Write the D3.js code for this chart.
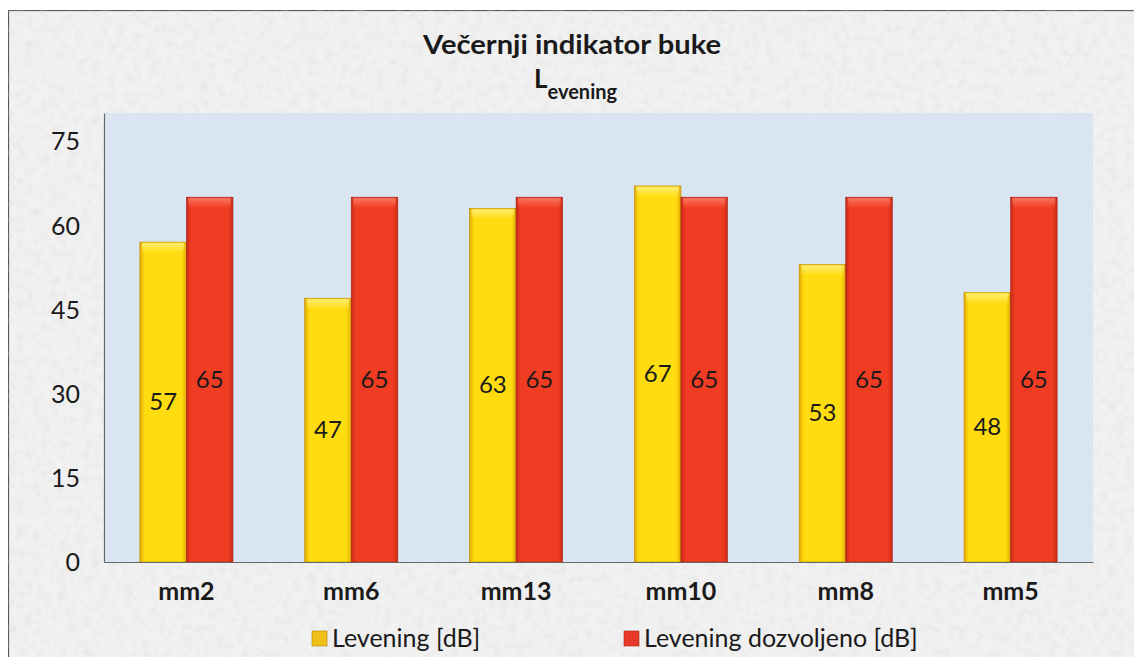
<!DOCTYPE html>
<html><head><meta charset="utf-8">
<script src="https://cdn.jsdelivr.net/npm/d3@7"></script>
<style>
html,body{margin:0;padding:0;background:#fff;}
svg{display:block;}
text{font-family:"Lato","Open Sans",sans-serif;fill:#1a1a1a;}
</style></head>
<body>
<script>
const categories = ["mm2","mm6","mm13","mm10","mm8","mm5"];
const levening = [57,47,63,67,53,48];
const dozvoljeno = [65,65,65,65,65,65];
const seriesNames = ["Levening [dB]","Levening dozvoljeno [dB]"];
const yTicks = [0,15,30,45,60,75];
const yMax = 80;

const W = 1134, H = 657;
const svg = d3.select("body").append("svg").attr("width",W).attr("height",H);
const defs = svg.append("defs");

// paper texture
const f = defs.append("filter").attr("id","paper").attr("x",0).attr("y",0).attr("width","100%").attr("height","100%");
f.append("feTurbulence").attr("type","fractalNoise").attr("baseFrequency",0.12).attr("numOctaves",3).attr("seed",3).attr("result","n");
f.append("feColorMatrix").attr("in","n").attr("type","matrix")
 .attr("values","0 0 0 0 0.6  0 0 0 0 0.6  0 0 0 0 0.6  0 0 0 -0.6 0.33").attr("result","c");
f.append("feComposite").attr("in","c").attr("in2","SourceGraphic").attr("operator","in").attr("result","t");
f.append("feMerge").selectAll("feMergeNode").data(["SourceGraphic","t"]).join("feMergeNode").attr("in",d=>d);

function hGrad(id, edge, mid){
  const g = defs.append("linearGradient").attr("id",id).attr("x1",0).attr("x2",1).attr("y1",0).attr("y2",0);
  [[0,edge],[0.1,mid],[0.9,mid],[1,edge]].forEach(s=>g.append("stop").attr("offset",s[0]).attr("stop-color",s[1]));
}
hGrad("gY","#e0a800","#ffdc10");
hGrad("gR","#c82a18","#f03c22");
function vGrad(id, c1){
  const g = defs.append("linearGradient").attr("id",id).attr("x1",0).attr("x2",0).attr("y1",0).attr("y2",1);
  g.append("stop").attr("offset",0).attr("stop-color",c1).attr("stop-opacity",0.9);
  g.append("stop").attr("offset",1).attr("stop-color",c1).attr("stop-opacity",0);
}
vGrad("hY","#fff07a");
vGrad("hR","#ff7a66");

// outer chart area
svg.append("rect").attr("x",8.5).attr("y",10.5).attr("width",W).attr("height",H)
  .attr("fill","#f1f1f1").attr("stroke","#555").attr("stroke-width",1.2).attr("filter","url(#paper)");

const m = {left:104, right:1093, top:113, bottom:562};
const x0 = d3.scaleBand().domain(categories).range([m.left,m.right]).paddingInner(0.435).paddingOuter(0.2175);
const x1 = d3.scaleBand().domain([0,1]).range([0,x0.bandwidth()]).padding(0);
const y = d3.scaleLinear().domain([0,yMax]).range([m.bottom,m.top]);

svg.append("rect").attr("x",m.left).attr("y",m.top).attr("width",m.right-m.left).attr("height",m.bottom-m.top)
  .attr("fill","#d9e6f1");

// title
svg.append("text").attr("x",572).attr("y",54).attr("text-anchor","middle")
  .attr("font-size",26).attr("font-weight","bold").attr("textLength",298).attr("lengthAdjust","spacingAndGlyphs")
  .text("Večernji indikator buke");
const sub = svg.append("text").attr("x",534).attr("y",88).attr("font-weight","bold");
sub.append("tspan").attr("font-size",26).text("L");
sub.append("tspan").attr("font-size",20).attr("dy",11).text("evening");

const fills = ["url(#gY)","url(#gR)"];
const hl = ["url(#hY)","url(#hR)"];
const rows = categories.map((c,i)=>({c, v:[levening[i],dozvoljeno[i]]}));

const grp = svg.append("g").selectAll("g").data(rows).join("g")
  .attr("transform",d=>`translate(${x0(d.c)},0)`);
grp.selectAll("rect.bar").data(d=>d.v.map((v,k)=>({v,k}))).join("rect").attr("class","bar")
  .attr("x",d=>x1(d.k)).attr("y",d=>y(d.v)).attr("width",x1.bandwidth()).attr("height",d=>y(0)-y(d.v))
  .attr("fill",d=>fills[d.k]).attr("stroke",d=>d.k?"#a52214":"#c08a00").attr("stroke-width",0.6);
grp.selectAll("rect.hl").data(d=>d.v.map((v,k)=>({v,k}))).join("rect").attr("class","hl")
  .attr("x",d=>x1(d.k)+2).attr("y",d=>y(d.v)+1).attr("width",x1.bandwidth()-4).attr("height",10)
  .attr("fill",d=>hl[d.k]);
grp.selectAll("text").data(d=>d.v.map((v,k)=>({v,k}))).join("text")
  .attr("x",d=>x1(d.k)+x1.bandwidth()/2).attr("y",d=>y(d.v/2)+8)
  .attr("text-anchor","middle").attr("font-size",24).text(d=>d.v);

// axes
const yAxis = svg.append("g").attr("transform",`translate(${m.left},0)`)
  .call(d3.axisLeft(y).tickValues(yTicks).tickSize(0).tickPadding(24));
yAxis.select(".domain").attr("stroke","#666").attr("stroke-width",1.2);
yAxis.selectAll("text").attr("font-size",25).attr("fill","#1a1a1a").attr("dy","0.35em")
  .style("font-family","Lato, sans-serif");

const xAxis = svg.append("g").attr("transform",`translate(0,${m.bottom})`)
  .call(d3.axisBottom(x0).tickSize(0).tickPadding(20));
xAxis.select(".domain").attr("stroke","#666").attr("stroke-width",1.2);
xAxis.selectAll("text").attr("font-size",25).attr("font-weight","bold").attr("fill","#1a1a1a")
  .style("font-family","Lato, sans-serif");

// legend
const legX = [312, 624];
const lg = svg.append("g").selectAll("g").data(seriesNames).join("g")
  .attr("transform",(d,i)=>`translate(${legX[i]},631)`);
lg.append("rect").attr("width",15).attr("height",15).attr("fill",(d,i)=>i?"#e8382a":"#f2c01a")
  .attr("stroke",(d,i)=>i?"#a52214":"#b08000").attr("stroke-width",0.6);
lg.append("text").attr("x",20).attr("y",16).attr("font-size",25).text(d=>d);
</script>
</body></html>
